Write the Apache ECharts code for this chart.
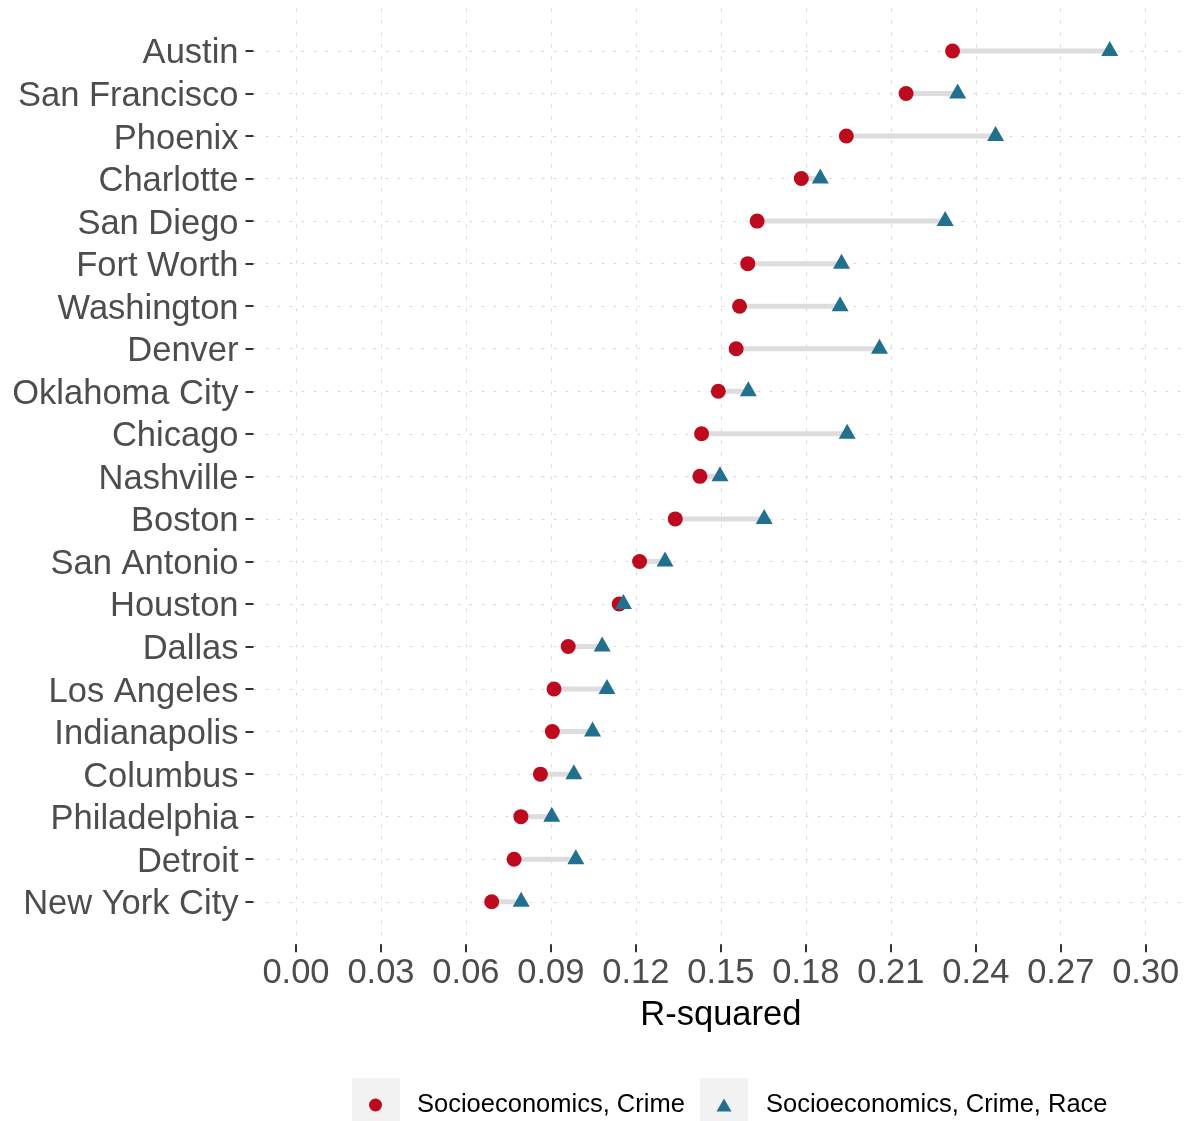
<!DOCTYPE html>
<html>
<head>
<meta charset="utf-8">
<script src="https://cdn.jsdelivr.net/npm/echarts@6/dist/echarts.min.js"></script>
<style>
html,body{margin:0;padding:0;background:#fff;}
#chart{width:1193px;height:1121px;}
</style>
</head>
<body>
<div id="chart"></div>
<script>
// ---- data ----
const cities = ["Austin","San Francisco","Phoenix","Charlotte","San Diego","Fort Worth","Washington","Denver","Oklahoma City","Chicago","Nashville","Boston","San Antonio","Houston","Dallas","Los Angeles","Indianapolis","Columbus","Philadelphia","Detroit","New York City"];
const socioCrime = [0.2318,0.2154,0.1943,0.1784,0.1628,0.1595,0.1566,0.1554,0.1491,0.1432,0.1426,0.1339,0.1213,0.1141,0.0961,0.0911,0.0905,0.0863,0.0794,0.0770,0.0691];
const socioCrimeRace = [0.2873,0.2336,0.2470,0.1851,0.2292,0.1926,0.1921,0.2060,0.1597,0.1946,0.1497,0.1653,0.1303,0.1156,0.1081,0.1098,0.1047,0.0981,0.0903,0.0988,0.0795];
const xTicks = [0.00,0.03,0.06,0.09,0.12,0.15,0.18,0.21,0.24,0.27,0.30];
const seriesNames = ["Socioeconomics, Crime","Socioeconomics, Crime, Race"];

const RED = "#BE0A1E", BLUE = "#22708F";
const FONT = "Liberation Sans";
const yCats = [""].concat(cities, [""]);
const inner = (i) => i > 0 && i < yCats.length - 1;
const gridLine = {show:true, lineStyle:{color:"#D9D9D9", width:1, type:[3,9]}};

const chart = echarts.init(document.getElementById("chart"), null, {renderer:"canvas"});
chart.setOption({
  animation:false,
  backgroundColor:"#ffffff",
  textStyle:{fontFamily:FONT},
  grid:{left:253.5, right:4.8, top:8.4, bottom:176.7, containLabel:false},
  xAxis:{
    type:"value", min:-0.015, max:0.315, interval:0.015,
    axisLine:{show:false, onZero:false},
    axisTick:{show:true, length:8, lineStyle:{color:"#333333", width:2}, customValues:xTicks},
    axisLabel:{show:true, margin:12, fontSize:34.5, color:"#4D4D4D", fontFamily:FONT, customValues:xTicks,
      formatter:(v)=>v.toFixed(2)},
    splitLine:gridLine,
    name:"R-squared", nameLocation:"middle", nameGap:54,
    nameTextStyle:{fontSize:34.5, color:"#000000", fontFamily:FONT}
  },
  yAxis:{
    type:"category", data:yCats, inverse:true, boundaryGap:false,
    axisLine:{show:false, onZero:false},
    axisTick:{show:true, length:8, interval:(i)=>inner(i), lineStyle:{color:"#333333", width:2}},
    axisLabel:{show:true, margin:15, fontSize:34.5, color:"#4D4D4D", fontFamily:FONT, interval:(i)=>inner(i),
      formatter:(v)=> v ? "{c|" + v + "}" : "",
      rich:{c:{fontSize:34.5, color:"#4D4D4D", fontFamily:FONT, padding:[6,0,0,0]}}},
    splitLine:Object.assign({interval:(i)=>inner(i)}, gridLine)
  },
  legend:[
    {data:[{name:seriesNames[0], icon:"circle"}], left:364, top:1087, itemWidth:13, itemHeight:13,
     textStyle:{fontSize:25.5, color:"#000000", fontFamily:FONT, padding:[0,0,0,30]}},
    {data:[{name:seriesNames[1], icon:"triangle"}], left:711.5, top:1087, itemWidth:15, itemHeight:13,
     textStyle:{fontSize:25.5, color:"#000000", fontFamily:FONT, padding:[0,0,0,29.5]}}
  ],
  graphic:[
    {type:"rect", left:352, top:1078, z:-1, shape:{width:48, height:48}, style:{fill:"#F2F2F2"}},
    {type:"rect", left:700, top:1078, z:-1, shape:{width:48, height:48}, style:{fill:"#F2F2F2"}}
  ],
  series:[
    {
      type:"custom", name:"segments", silent:true, z:1,
      data: cities.map((c,i)=>[socioCrime[i], socioCrimeRace[i], c]),
      encode:{x:[0,1], y:2},
      renderItem:(params, api)=>{
        const cat = api.value(2);
        const p1 = api.coord([api.value(0), cat]);
        const p2 = api.coord([api.value(1), cat]);
        return {type:"line", shape:{x1:p1[0], y1:p1[1], x2:p2[0], y2:p2[1]},
          style:{stroke:"#DDDDDD", lineWidth:5}};
      }
    },
    {
      type:"scatter", name:seriesNames[0], z:2, symbol:"circle", symbolSize:15,
      itemStyle:{color:RED, opacity:1},
      data: cities.map((c,i)=>[socioCrime[i], c])
    },
    {
      type:"scatter", name:seriesNames[1], z:3, symbol:"triangle", symbolSize:[17,15], symbolOffset:[0,-2.5],
      itemStyle:{color:BLUE, opacity:1},
      data: cities.map((c,i)=>[socioCrimeRace[i], c])
    }
  ]
});
</script>
</body>
</html>
